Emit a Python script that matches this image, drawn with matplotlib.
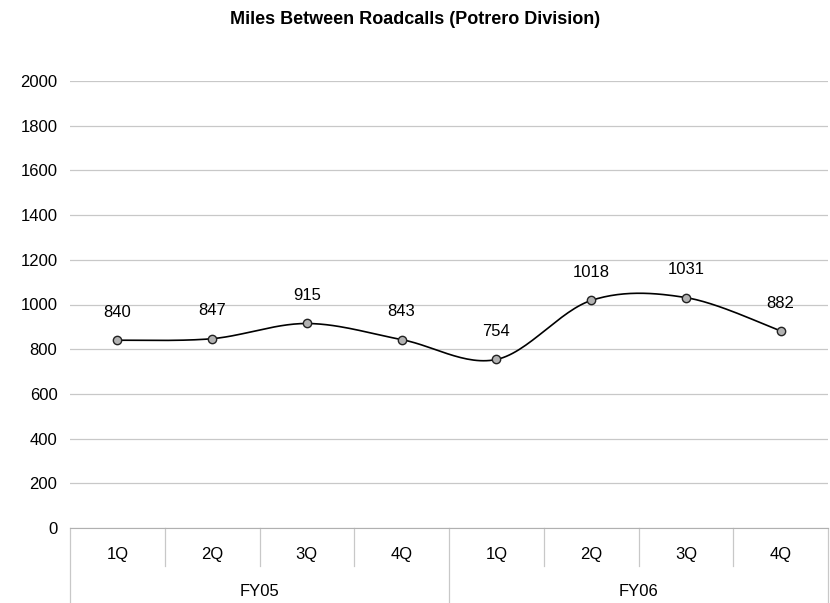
import numpy as np
import matplotlib.pyplot as plt
from matplotlib.lines import Line2D

plt.rcParams['font.family'] = ['Liberation Sans', 'DejaVu Sans']

quarters = ['1Q', '2Q', '3Q', '4Q', '1Q', '2Q', '3Q', '4Q']
years = ['FY05', 'FY06']
miles = [840, 847, 915, 843, 754, 1018, 1031, 882]
yticks = list(range(0, 2001, 200))


def smooth(xs, ys, n=30):
    # Excel-style smoothed line: cubic Bezier with Catmull-Rom control points
    pts = np.column_stack([xs, ys]).astype(float)
    out = []
    for i in range(len(pts) - 1):
        p0 = pts[max(i - 1, 0)]
        p1 = pts[i]
        p2 = pts[i + 1]
        p3 = pts[min(i + 2, len(pts) - 1)]
        c1 = p1 + (p2 - p0) / 6
        c2 = p2 - (p3 - p1) / 6
        t = np.linspace(0, 1, n)[:, None]
        seg = ((1 - t) ** 3) * p1 + 3 * ((1 - t) ** 2) * t * c1 + 3 * (1 - t) * t ** 2 * c2 + t ** 3 * p2
        out.append(seg if i == 0 else seg[1:])
    out = np.vstack(out)
    return out[:, 0], out[:, 1]


fig = plt.figure(figsize=(8.3, 6.03), dpi=100)
ax = fig.add_axes([70 / 830, 1 - 528 / 603, 758 / 830, 447 / 603])

x = np.arange(len(miles))
sx, sy = smooth(x, miles)
ax.plot(sx, sy, color='black', lw=1.2, zorder=3)
ax.plot(x, miles, ls='none', marker='o', ms=6, mfc='#b2b2b2', mec='#222222', mew=1.0, zorder=4)

for xi, v in zip(x, miles):
    ax.annotate(str(v), (xi, v), xytext=(0, 20), textcoords='offset points',
                ha='center', va='center', fontsize=12)

ax.set_xlim(-0.5, len(miles) - 0.5)
ax.set_ylim(0, 2000)
ax.set_yticks(yticks)
ax.tick_params(axis='y', length=0, labelsize=12, pad=9)
ax.set_xticks([])
ax.grid(axis='y', color='#c8c8c8', lw=0.9)
ax.set_axisbelow(True)
for s in ['top', 'right', 'left']:
    ax.spines[s].set_visible(False)
ax.spines['bottom'].set_color('#b0b0b0')

fig.suptitle('Miles Between Roadcalls (Potrero Division)', fontsize=13,
             fontweight='bold', y=1 - 19 / 603, va='center')

# two-level category axis
trans = ax.get_xaxis_transform()
fy_q = 38 / 447
fy_y = 75 / 447
for i in range(len(quarters) + 1):
    bottom = -fy_y if i % 4 == 0 else -fy_q
    ax.add_line(Line2D([i - 0.5, i - 0.5], [0, bottom], transform=trans,
                       color='#c8c8c8', lw=0.9, clip_on=False))
for i, q in enumerate(quarters):
    ax.text(i, -27 / 447, q, transform=trans, ha='center', va='center', fontsize=12)
for j, yr in enumerate(years):
    ax.text(j * 4 + 1.5, -64 / 447, yr, transform=trans, ha='center', va='center', fontsize=12)

fig.savefig('out.png', dpi=100)
